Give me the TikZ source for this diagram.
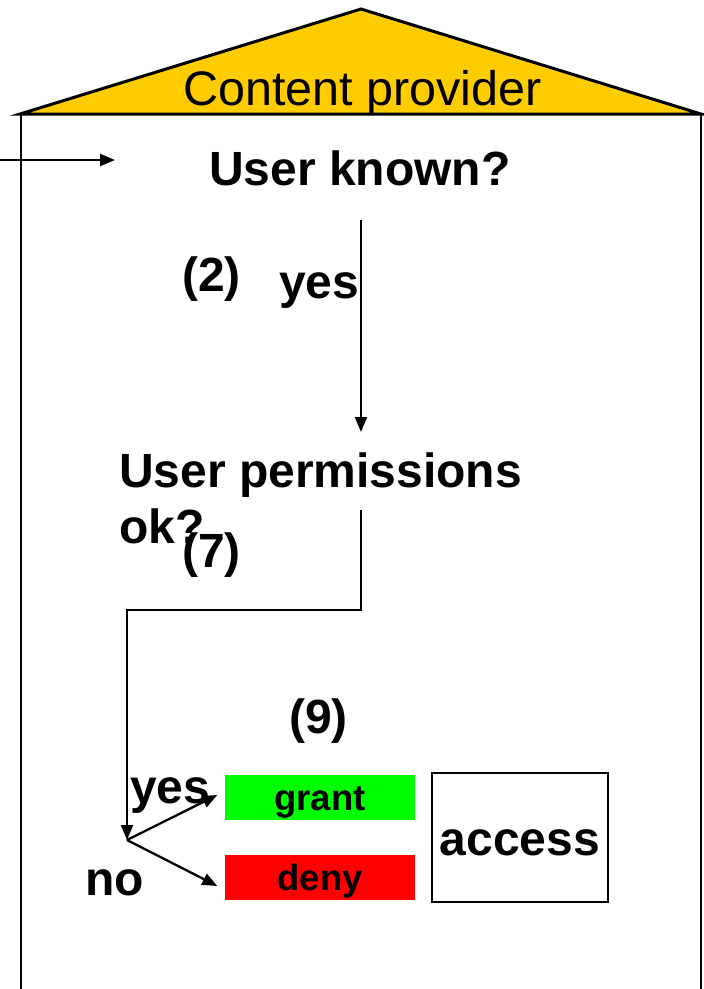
\documentclass[tikz,border=0pt]{standalone}
\usepackage{fontspec}
\setmainfont{Liberation Sans}
\usetikzlibrary{arrows.meta}
\definecolor{roofyellow}{HTML}{FFCC00}
\definecolor{grantgreen}{HTML}{00FF00}
\definecolor{denyred}{HTML}{FF0000}

\begin{document}
\begin{tikzpicture}[x=1pt,y=-1pt,
  wire/.style={line width=2.3pt},
  flow/.style={wire,-{Triangle[length=15pt,width=12pt]}},
  bigtext/.style={font=\fontsize{48}{56}\selectfont\bfseries,inner sep=0pt},
  rooftext/.style={font=\fontsize{48.5}{56}\selectfont,inner sep=0pt},
  verdict/.style={minimum width=190pt,minimum height=45pt,inner sep=0pt,
    font=\fontsize{36.5}{40}\selectfont\bfseries,text height=31pt,text depth=6pt},
]
\useasboundingbox (0,0) rectangle (704,989);
\fill[white] (0,0) rectangle (704,989);

% the house: roof and walls
\draw[line width=3pt,fill=roofyellow,line join=miter] (20,114) -- (361,9) -- (701,114) -- cycle;
\draw[line width=2.5pt] (21,113) -- (21,995);
\draw[line width=2.5pt] (701,113) -- (701,995);
\node[rooftext,anchor=base west] (cp) at (183,105) {Content provider};

% questions and step labels
\node[bigtext,anchor=base west] (known) at (209,185) {User known?};
\node[bigtext,anchor=base west] (two) at (182,291) {(2)};
\node[bigtext,anchor=base west] (yes1) at (279,298) {yes};
\node[bigtext,anchor=base west] (perm) at (119,487) {\vtop{\hbox{User permissions}\hbox{ok?}}};
\node[bigtext,anchor=base west] (seven) at (182,567) {(7)};
\node[bigtext,anchor=base west] (nine) at (289,733) {(9)};
\node[bigtext,anchor=base west] (yes2) at (130,803) {yes};
\node[bigtext,anchor=base west] (no) at (85,895) {no};

% outcome boxes
\node[verdict,fill=grantgreen] (grant) at (320,797.5) {grant};
\node[verdict,fill=denyred] (deny) at (320,877.5) {deny};
\node[draw,line width=2pt,minimum width=176pt,minimum height=129pt,inner sep=0pt,
  font=\fontsize{48}{56}\selectfont\bfseries,text height=41pt,text depth=6pt]
  (access) at (520,837.5) {access};

% connectors
\coordinate (src) at (0,160);
\coordinate (entry) at (115,160);
\coordinate (k1) at (361,220);
\coordinate (k2) at (361,432);
\coordinate (p1) at (361,510);
\coordinate (split) at (127,840);

\draw[flow] (src) -- (entry);
\draw[flow] (k1) -- (k2);
\draw[flow] (p1) -- ++(0,100) -| (split);
\draw[flow] (split) -- ([xshift=-7.5pt,yshift=2.5pt]grant.west);
\draw[flow] (split) -- ([xshift=-7.5pt,yshift=-8.5pt]deny.west);
\end{tikzpicture}
\end{document}
